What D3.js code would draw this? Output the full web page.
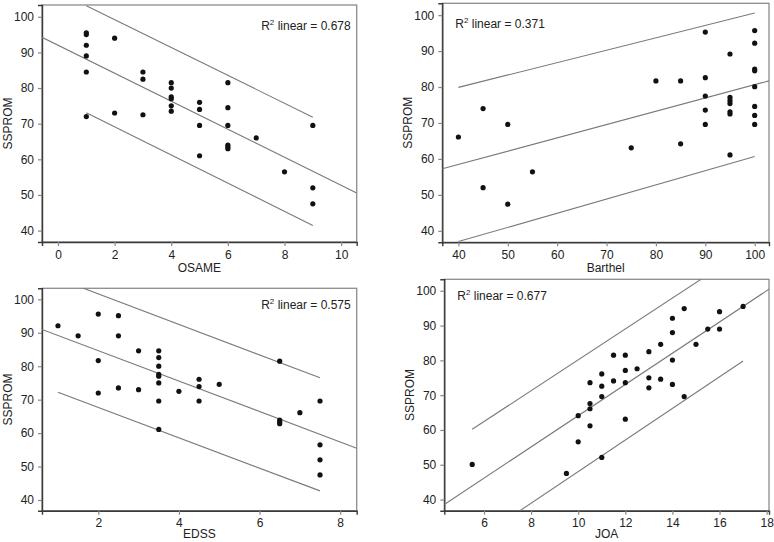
<!DOCTYPE html>
<html>
<head>
<meta charset="utf-8">
<script src="https://cdn.jsdelivr.net/npm/d3@7"></script>
<style>
  html, body { margin: 0; padding: 0; background: #fff; }
  svg { display: block; font-family: "Liberation Sans", Arial, Helvetica, sans-serif; }
</style>
</head>
<body>
<svg id="chart" width="774" height="542"></svg>
<script>
// ---------- DATA ----------
const yTicks = [40, 50, 60, 70, 80, 90, 100];

const osameX = [1,1,1,1,1,1, 2,2, 3,3,3, 4,4,4,4,4,4, 5,5,5,5, 6,6,6,6,6,6, 7, 8, 9,9,9];
const osameY = [95.5,95,92,89,84.5,72, 94,73, 84.5,82.5,72.5, 81.5,80,77.5,77,75,73.5, 76,74,69.5,61, 81.5,74.5,69.5,64,63.5,63, 66, 56.5, 69.5,52,47.5];
const osameTicks = [0, 2, 4, 6, 8, 10];
const osameFit = { intercept: 92.0, slope: -3.93, lo: 1, hi: 9, bandLo: 15.0, bandHi: 15.2, r2: "0.678" };

const barthelX = [40, 45,45, 50,50, 55, 75, 80, 85,85, 90,90,90,90,90, 95,95,95,95,95,95,95, 100,100,100,100,100,100,100,100];
const barthelY = [66.1, 74,52, 69.6,47.4, 56.4, 63.1, 81.7, 81.7,64.2, 95.3,82.6,77.5,73.6,69.6, 89.2,77.1,76.2,75.4,73.1,72.5,61.1, 95.7,92.2,85,84.5,80.1,74.6,72.1,69.6];
const barthelTicks = [40, 50, 60, 70, 80, 90, 100];
const barthelFit = { intercept: 43.65, slope: 0.37, lo: 40, hi: 100, bandLo: 21.45, bandHi: 19.95, r2: "0.371" };

const edssX = [1, 1.5, 2,2,2, 2.5,2.5,2.5, 3,3, 3.5,3.5,3.5,3.5,3.5,3.5,3.5,3.5, 4, 4.5,4.5,4.5, 5, 6.5,6.5,6.5,6.5, 7, 7.5,7.5,7.5,7.5];
const edssY = [92.1, 89.1, 95.6,81.7,72, 95.1,89.1,73.5, 84.6,73, 84.6,82.6,80,77.6,77,75,69.6,61.1, 72.5, 76.1,73.9,69.6, 74.6, 81.5,63.9,63.3,62.8, 66.1, 69.6,56.5,52,47.5];
const edssTicks = [2, 4, 6, 8];
const edssFit = { intercept: 93.75, slope: -4.55, lo: 1, hi: 7.5, bandLo: 17.0, bandHi: 16.9, r2: "0.575" };

const joaX = [5.5, 9.5, 10,10, 10.5,10.5,10.5,10.5, 11,11,11,11, 11.5,11.5, 12,12,12,12, 12.5, 13,13,13, 13.5,13.5, 14,14,14,14, 14.5,14.5, 15, 15.5, 16,16, 17];
const joaY = [50.1, 47.5, 64.1,56.6, 73.6,67.6,66.1,61.2, 76.1,72.6,69.6,52.1, 81.5,74.1, 81.5,77.1,73.6,63.1, 77.6, 82.5,75,72.1, 84.6,74.6, 92.1,88,80.1,73.1, 94.9,69.6, 84.6, 89, 94,89, 95.5];
const joaTicks = [6, 8, 10, 12, 14, 16, 18];
const joaFit = { intercept: 19.2, slope: 4.49, lo: 5.5, hi: 17, bandLo: 16.3, bandHi: 15.7, r2: "0.677" };

// ---------- LAYOUT ----------
const panels = [
  { x: osameX, y: osameY, ticks: osameTicks, fit: osameFit, title: "OSAME",
    box: { l: 42, r: 356.7, t: 5, b: 242 }, xDom: [-0.565, 10.55], r2Side: "right", titleGap: 30 },
  { x: barthelX, y: barthelY, ticks: barthelTicks, fit: barthelFit, title: "Barthel",
    box: { l: 442.3, r: 769, t: 3.3, b: 242.3 }, xDom: [36.74, 102.9], r2Side: "left", titleGap: 30 },
  { x: edssX, y: edssY, ticks: edssTicks, fit: edssFit, title: "EDSS",
    box: { l: 42, r: 356.7, t: 288.3, b: 510.7 }, xDom: [0.604, 8.41], r2Side: "right", titleGap: 27 },
  { x: joaX, y: joaY, ticks: joaTicks, fit: joaFit, title: "JOA",
    box: { l: 444.3, r: 769, t: 279.3, b: 510.7 }, xDom: [4.315, 18.1], r2Side: "left", titleGap: 27 }
];

const svg = d3.select("#chart");
const yDom = [36.8, 103.3];

panels.forEach((p, i) => {
  const b = p.box;
  const xs = d3.scaleLinear().domain(p.xDom).range([b.l, b.r]);
  const ys = d3.scaleLinear().domain(yDom).range([b.b, b.t]);
  const g = svg.append("g");

  const clipId = "clip" + i;
  svg.append("clipPath").attr("id", clipId)
    .append("rect").attr("x", b.l).attr("y", b.t).attr("width", b.r - b.l).attr("height", b.b - b.t);

  // frame (top/right lighter)
  g.append("rect").attr("x", b.l).attr("y", b.t).attr("width", b.r - b.l).attr("height", b.b - b.t)
    .attr("fill", "none").attr("stroke", "#8c8c8c").attr("stroke-width", 1.3);

  // axes
  const xAxis = d3.axisBottom(xs).tickValues(p.ticks).tickSize(4).tickPadding(4).tickFormat(d3.format("d"));
  const yAxis = d3.axisLeft(ys).tickValues(yTicks).tickSize(4).tickPadding(4).tickFormat(d3.format("d"));
  const gx = g.append("g").attr("transform", `translate(0,${b.b})`).call(xAxis);
  const gy = g.append("g").attr("transform", `translate(${b.l},0)`).call(yAxis);
  [gx, gy].forEach(ax => {
    ax.select(".domain").attr("stroke", "#3a3a3a").attr("stroke-width", 1.4);
    ax.selectAll(".tick line").attr("stroke", "#888").attr("stroke-width", 1.2);
    ax.selectAll(".tick text").attr("fill", "#222").style("font-size", "12px")
      .style("font-family", "'Liberation Sans', Arial, Helvetica, sans-serif");
  });

  // regression line + interval lines
  const f = p.fit;
  const mid = x => f.intercept + f.slope * x;
  const lines = [
    [[p.xDom[0], mid(p.xDom[0])], [p.xDom[1], mid(p.xDom[1])]],
    [[f.lo, mid(f.lo) + f.bandLo], [f.hi, mid(f.hi) + f.bandHi]],
    [[f.lo, mid(f.lo) - f.bandLo], [f.hi, mid(f.hi) - f.bandHi]]
  ];
  const lineGen = d3.line().x(d => xs(d[0])).y(d => ys(d[1]));
  g.append("g").attr("clip-path", `url(#${clipId})`)
    .selectAll("path").data(lines).join("path")
    .attr("d", lineGen).attr("fill", "none").attr("stroke", "#7a7a7a").attr("stroke-width", 1.1);

  // points
  g.append("g").selectAll("circle").data(p.x.map((v, k) => [v, p.y[k]])).join("circle")
    .attr("cx", d => xs(d[0])).attr("cy", d => ys(d[1])).attr("r", 2.6).attr("fill", "#111");

  // R² text
  const t = g.append("text").style("font-size", "12px").attr("fill", "#222")
    .attr("y", b.t + (i < 2 ? 25 : 21));
  if (p.r2Side === "right") t.attr("x", b.r - 6).attr("text-anchor", "end");
  else t.attr("x", b.l + 13).attr("text-anchor", "start");
  t.append("tspan").text("R");
  t.append("tspan").attr("dy", -5).style("font-size", "8px").text("2");
  t.append("tspan").attr("dy", 5).text(" linear = " + f.r2);

  // axis titles
  g.append("text").attr("x", (b.l + b.r) / 2).attr("y", b.b + p.titleGap)
    .attr("text-anchor", "middle").style("font-size", "12px").attr("fill", "#222").text(p.title);
  g.append("text").attr("transform", `translate(${b.l - 30},${(b.t + b.b) / 2}) rotate(-90)`)
    .attr("text-anchor", "middle").style("font-size", "12px").attr("fill", "#222").text("SSPROM");
});
</script>
</body>
</html>
